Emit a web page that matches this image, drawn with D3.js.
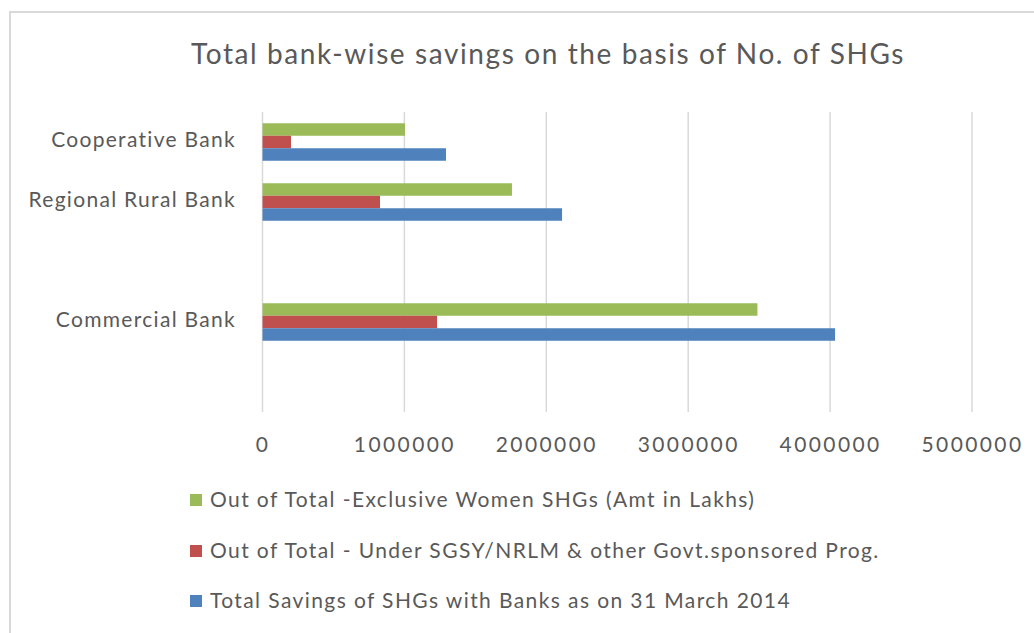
<!DOCTYPE html>
<html><head><meta charset="utf-8">
<script src="https://cdn.jsdelivr.net/npm/d3@7"></script>
<style>body{margin:0;background:#fff}svg{display:block}text{font-family:Lato,"Open Sans",sans-serif;fill:#595959}</style>
</head><body><svg id="c" width="1034" height="633"></svg>
<script>
const categories = ["Cooperative Bank", "Regional Rural Bank", "", "Commercial Bank", ""];
const seriesNames = [
  "Out of Total -Exclusive Women SHGs (Amt in Lakhs)",
  "Out of Total - Under SGSY/NRLM & other Govt.sponsored Prog.",
  "Total Savings of SHGs with Banks as on 31 March 2014"
];
const womenSHGs = [1004000, 1758000, null, 3488000, null];
const govtSponsored = [201000, 828000, null, 1230000, null];
const totalSavings = [1293000, 2111000, null, 4035000, null];
const xTicks = [0, 1000000, 2000000, 3000000, 4000000, 5000000];
const colors = ["#9BBB59", "#C0504D", "#4F81BD"];
const title = "Total bank-wise savings on the basis of No. of SHGs";

(function () {
const svg = d3.select("#c");
svg.append("rect").attr("x", 10).attr("y", 12).attr("width", 1040).attr("height", 640)
  .attr("fill", "#fff").attr("stroke", "#D9D9D9").attr("stroke-width", 2);

svg.append("text").attr("x", 548).attr("y", 64).attr("text-anchor", "middle")
  .attr("font-size", 28).attr("letter-spacing", 1.6).text(title);

const pLeft = 262.5, pRight = 972, pTop = 112, pBottom = 412;
const x = d3.scaleLinear().domain([0, 5000000]).range([pLeft, pRight]);
const keys = categories.map((c, i) => "c" + i);
const y = d3.scaleBand().domain(keys).range([pTop, pBottom]).paddingInner(0).paddingOuter(0);
const inner = d3.scaleBand().domain([0, 1, 2]).range([0, y.bandwidth()]).paddingInner(0).paddingOuter(0.9);

const g = svg.append("g");
g.selectAll("line.grid").data(xTicks).join("line")
  .attr("x1", d => x(d)).attr("x2", d => x(d)).attr("y1", pTop).attr("y2", pBottom)
  .attr("stroke", "#D9D9D9").attr("stroke-width", 1.5);

const series = [womenSHGs, govtSponsored, totalSavings];
series.forEach((vals, si) => {
  g.selectAll(null).data(vals.map((v, i) => ({v, i})).filter(d => d.v != null)).join("rect")
    .attr("x", x(0)).attr("y", d => y(keys[d.i]) + inner(si))
    .attr("width", d => x(d.v) - x(0)).attr("height", inner.bandwidth())
    .attr("fill", colors[si]);
});

svg.selectAll("text.cat").data(categories).join("text").attr("class", "cat")
  .attr("x", 236).attr("y", (d, i) => y(keys[i]) + y.bandwidth() / 2 - 2)
  .attr("dy", "0.35em").attr("text-anchor", "end").attr("font-size", 21).attr("letter-spacing", 1.3).text(d => d);

const xa = svg.append("g").attr("transform", `translate(0,${pBottom})`)
  .call(d3.axisBottom(x).tickValues(xTicks).tickFormat(d3.format("d")).tickSize(0).tickPadding(25));
xa.select(".domain").remove();
xa.selectAll("text").attr("font-size", 21).attr("letter-spacing", 2.4)
  .attr("font-family", "Lato, 'Open Sans', sans-serif").attr("fill", "#595959");

const leg = svg.append("g");
const legY = [500, 551, 601];
seriesNames.forEach((n, i) => {
  leg.append("rect").attr("x", 190).attr("y", legY[i] - 6).attr("width", 12).attr("height", 12).attr("fill", colors[i]);
  leg.append("text").attr("x", 210).attr("y", legY[i]).attr("dy", "0.35em").attr("font-size", 21).attr("letter-spacing", 1.4).text(n);
});
})();
</script></body></html>
